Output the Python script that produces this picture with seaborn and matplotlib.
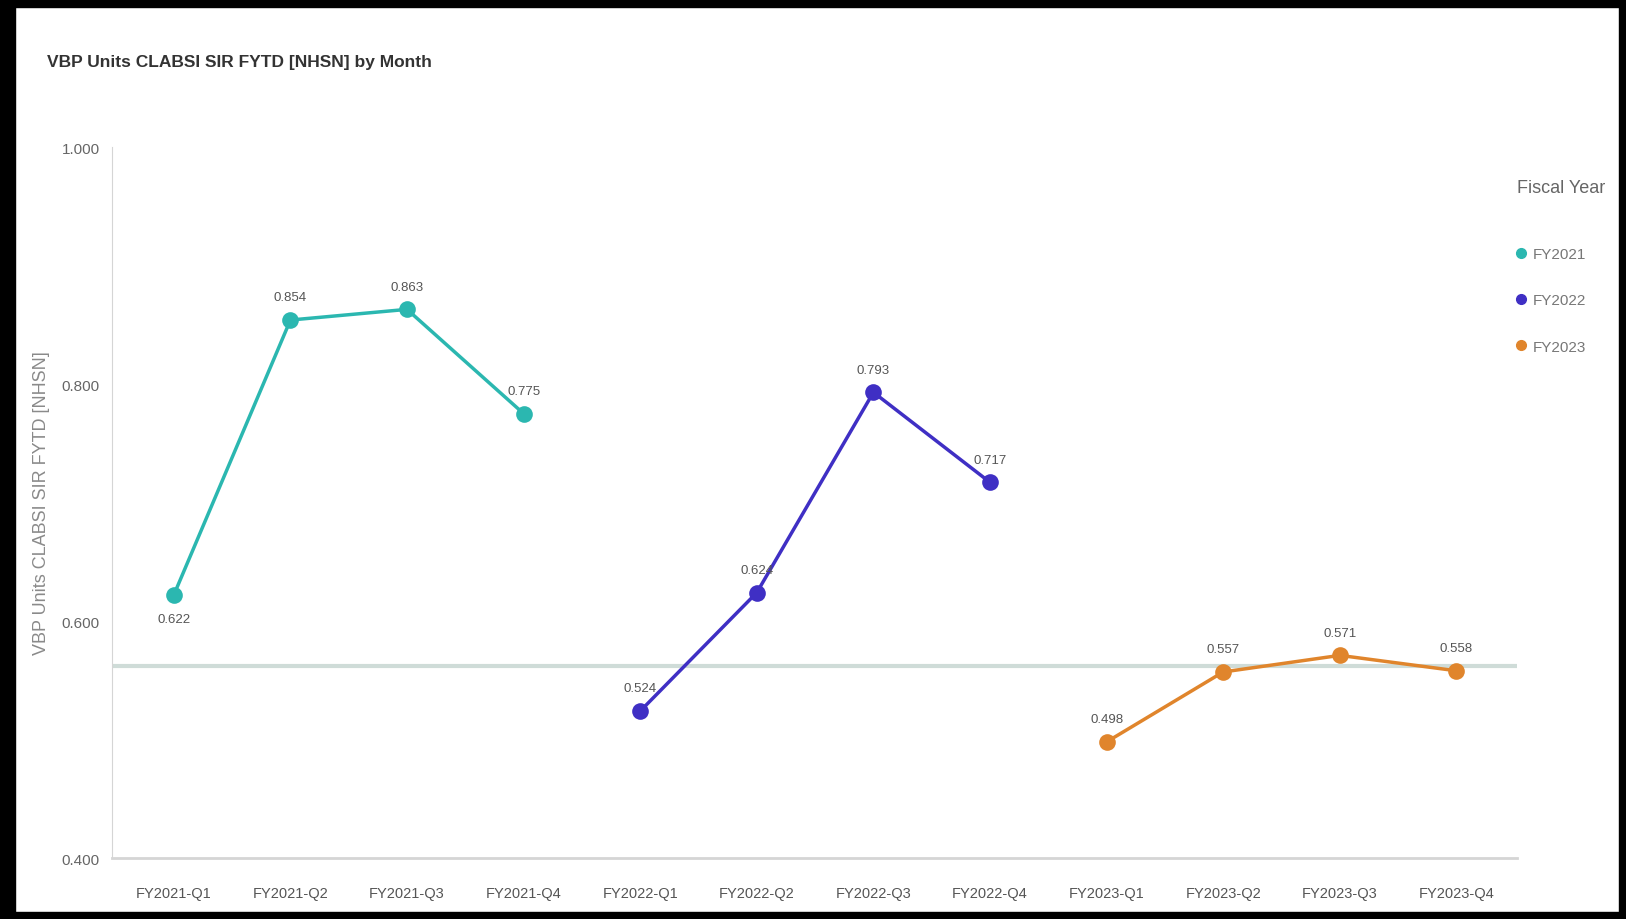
import numpy as np
import pandas as pd
import matplotlib
matplotlib.use("Agg")
import matplotlib.pyplot as plt
from matplotlib.patches import Rectangle
from matplotlib.lines import Line2D
import seaborn as sns

sns.set_style("white")
plt.rcParams['font.family'] = ['Liberation Sans', 'DejaVu Sans']

# data
quarters = ["FY2021-Q1", "FY2021-Q2", "FY2021-Q3", "FY2021-Q4",
            "FY2022-Q1", "FY2022-Q2", "FY2022-Q3", "FY2022-Q4",
            "FY2023-Q1", "FY2023-Q2", "FY2023-Q3", "FY2023-Q4"]
fiscal_years = ["FY2021"] * 4 + ["FY2022"] * 4 + ["FY2023"] * 4
sir_values = [0.622, 0.854, 0.863, 0.775,
              0.524, 0.624, 0.793, 0.717,
              0.498, 0.557, 0.571, 0.558]
target_sir = 0.562
year_names = ["FY2021", "FY2022", "FY2023"]
year_colors = ["#2bb7b0", "#3f2fc4", "#e0852c"]

data = pd.DataFrame({"Quarter": quarters, "Fiscal Year": fiscal_years, "SIR": sir_values})
palette = dict(zip(year_names, year_colors))

fig = plt.figure(figsize=(16.26, 9.2), dpi=100)
ax = fig.add_axes([0.0689, 0.0663, 0.8641, 0.7728])

ax.axhline(target_sir, color="#cfdcd8", linewidth=3, zorder=1)

sns.lineplot(data=data, x="Quarter", y="SIR", hue="Fiscal Year", palette=palette,
             marker="o", markersize=12, markeredgewidth=0, linewidth=2.5,
             legend=False, ax=ax, zorder=3)

# value labels
for i, v in enumerate(sir_values):
    if i == 0:
        ax.annotate(f"{v:.3f}", (i, v), xytext=(0, -13), textcoords="offset points",
                    ha="center", va="top", fontsize=9.5, color="#555555")
    else:
        ax.annotate(f"{v:.3f}", (i, v), xytext=(0, 12), textcoords="offset points",
                    ha="center", va="bottom", fontsize=9.5, color="#555555")

ax.set_xlim(-0.53, 11.52)
ax.set_ylim(0.4, 1.0)
ax.set_yticks([0.4, 0.6, 0.8, 1.0])
ax.yaxis.set_major_formatter(matplotlib.ticker.FormatStrFormatter("%.3f"))
ax.tick_params(axis="y", labelsize=11, colors="#666666", length=5, width=0.8, color="#cccccc", pad=4)
ax.tick_params(axis="x", labelsize=10.5, colors="#555555", length=0, pad=20)
ax.set_xlabel("")
ax.set_ylabel("VBP Units CLABSI SIR FYTD [NHSN]", fontsize=13, color="#8a8a8a")
ax.yaxis.set_label_coords(-0.044, 0.5)
for s in ["top", "right"]:
    ax.spines[s].set_visible(False)
ax.spines["left"].set_color("#d5d5d5")
ax.spines["bottom"].set_color("#d5d5d5")
ax.spines["bottom"].set_linewidth(2)

fig.text(0.029, 0.932, "VBP Units CLABSI SIR FYTD [NHSN] by Month", fontsize=12.5,
         fontweight="bold", color="#333333", va="center")

# legend
fig.text(0.933, 0.795, "Fiscal Year", fontsize=13, color="#666666", va="center")
handles = [Line2D([], [], marker="o", linestyle="", color=c, markersize=7) for c in year_colors]
leg = fig.legend(handles, year_names, loc="upper left",
                 bbox_to_anchor=(0.922, 0.745), frameon=False, fontsize=11,
                 labelspacing=2.1, handletextpad=0.3, handlelength=1.0)
for t in leg.get_texts():
    t.set_color("#777777")

# black frame around the picture
for r in [(0, 0, 0.009, 1), (0, 0.991, 1, 0.009), (0.996, 0, 0.004, 1), (0, 0, 1, 0.008)]:
    fig.add_artist(Rectangle(r[:2], r[2], r[3], transform=fig.transFigure, color="black", zorder=10))

fig.savefig("out.png", dpi=100)
